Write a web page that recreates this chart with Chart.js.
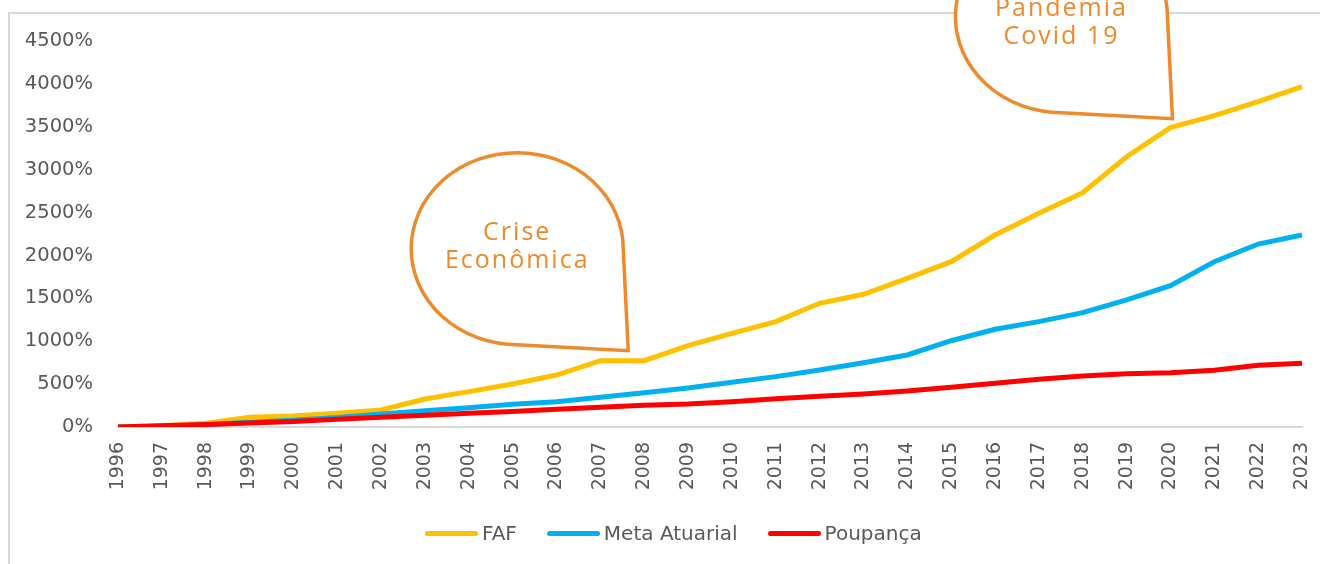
<!DOCTYPE html>
<html>
<head>
<meta charset="utf-8">
<script src="https://cdn.jsdelivr.net/npm/chart.js@4.4.0/dist/chart.umd.min.js"></script>
<style>
  html, body { margin: 0; padding: 0; background: #fff; }
  #wrap { position: relative; width: 1320px; height: 564px; overflow: hidden; }
  #frame {
    position: absolute; left: 8px; top: 12px; width: 1400px; height: 700px;
    border-left: 2px solid #d9d9d9; border-top: 2px solid #d9d9d9;
  }
  #chart_evolucao { position: absolute; left: 0; top: 0; }
  #chart_evolucao_legends {
    position: absolute; left: 425px; top: 519px; margin: 0; padding: 0;
    list-style: none; display: flex; flex-direction: row;
  }
</style>
</head>
<body>
<div id="wrap">
  <div id="frame"></div>
  <canvas id="chart_evolucao" width="1320" height="564"></canvas>
  <ul id="chart_evolucao_legends"></ul>
</div>
<script>
const anos = ["1996", "1997", "1998", "1999", "2000", "2001", "2002", "2003", "2004", "2005",
  "2006", "2007", "2008", "2009", "2010", "2011", "2012", "2013", "2014", "2015",
  "2016", "2017", "2018", "2019", "2020", "2021", "2022", "2023"];

const faf = [0, 15, 43, 113, 128, 159, 198, 326, 412, 501,
  606, 773, 773, 948, 1092, 1228, 1442, 1547, 1733, 1927,
  2238, 2491, 2732, 3151, 3490, 3629, 3792, 3967];

const metaAtuarial = [0, 10, 25, 55, 80, 110, 152, 190, 225, 264,
  295, 346, 400, 455, 521, 587, 665, 750, 840, 1006,
  1139, 1228, 1333, 1481, 1647, 1927, 2133, 2238];

const poupanca = [0, 15, 30, 47, 65, 90, 113, 136, 159, 182,
  208, 231, 253, 268, 295, 330, 358, 385, 420, 463,
  509, 556, 595, 622, 633, 661, 719, 743];

const seriesNames = ["FAF", "Meta Atuarial", "Poupança"];
const seriesColors = ["#FFC000", "#00B0F0", "#FF0000"];

// callouts anchored to a point of the FAF series
const callouts = [
  { text: ["Crise", "Econômica"], year: "2008", dx: -16, dy: -10, textDy: -2 },
  { text: ["Pandemia", "Covid 19"], year: "2020", dx: 2, dy: -9, textDy: 6 },
];

const textColor = "#595959";
const calloutColor = "#EE8A2C";

// html legend like the sheet one: a short thick line then the name
const ul = document.getElementById("chart_evolucao_legends");
seriesNames.forEach((name, i) => {
  const li = document.createElement("li");
  li.style.display = "flex";
  li.style.alignItems = "center";
  li.style.marginRight = i < seriesNames.length - 1 ? "30px" : "0";

  const box = document.createElement("span");
  box.style.display = "inline-block";
  box.style.width = "53px";
  box.style.height = "5px";
  box.style.borderRadius = "3px";
  box.style.background = seriesColors[i];
  box.style.marginRight = "4px";

  const txt = document.createElement("p");
  txt.style.margin = 0;
  txt.style.padding = 0;
  txt.style.font = "20px 'DejaVu Sans'";
  txt.style.color = textColor;
  txt.style.lineHeight = "28px";
  txt.appendChild(document.createTextNode(name));

  li.appendChild(box);
  li.appendChild(txt);
  ul.appendChild(li);
});

const calloutPlugin = {
  id: "callouts",
  afterDraw(chart) {
    const ctx = chart.ctx;
    const xs = chart.scales.x;
    const ys = chart.scales.y;
    const rx = 106, ry = 96;
    callouts.forEach((c) => {
      const idx = anos.indexOf(c.year);
      const tipX = xs.getPixelForValue(idx) + c.dx;
      const tipY = ys.getPixelForValue(faf[idx]) + c.dy;
      const right = tipX - 5;
      const bottom = tipY - 6;
      const cx = right - rx;
      const cy = bottom - ry;

      ctx.save();
      ctx.beginPath();
      ctx.moveTo(tipX, tipY);
      ctx.lineTo(right, cy);
      ctx.ellipse(cx, cy, rx, ry, 0, 0, Math.PI / 2, true);
      ctx.closePath();
      ctx.fillStyle = "#fff";
      ctx.fill();
      ctx.lineWidth = 3.5;
      ctx.lineJoin = "miter";
      ctx.strokeStyle = calloutColor;
      ctx.stroke();

      ctx.fillStyle = calloutColor;
      ctx.font = "25px 'Open Sans'";
      if ("letterSpacing" in ctx) ctx.letterSpacing = "2px";
      ctx.textAlign = "center";
      ctx.textBaseline = "middle";
      const lh = 28;
      const y0 = cy + c.textDy - ((c.text.length - 1) * lh) / 2;
      c.text.forEach((t, k) => ctx.fillText(t, cx, y0 + k * lh));
      ctx.restore();
    });
  },
};

const ctx = document.getElementById("chart_evolucao").getContext("2d");

const chartEvolucao = new Chart(ctx, {
  type: "line",
  data: {
    labels: anos,
    datasets: [
      { label: seriesNames[0], data: faf, borderColor: seriesColors[0], order: 2 },
      { label: seriesNames[1], data: metaAtuarial, borderColor: seriesColors[1], order: 1 },
      { label: seriesNames[2], data: poupanca, borderColor: seriesColors[2], order: 0 },
    ],
  },
  options: {
    responsive: false,
    animation: false,
    events: [],
    elements: {
      line: { borderWidth: 5, tension: 0, fill: false, borderCapStyle: "butt" },
      point: { radius: 0, hoverRadius: 0 },
    },
    layout: {
      padding: { left: 8, right: 18, top: 41, bottom: 0 },
    },
    plugins: {
      legend: { display: false },
      tooltip: { enabled: false },
    },
    scales: {
      x: {
        offset: false,
        grid: { display: false, drawTicks: false },
        border: { display: true, color: "#d9d9d9", width: 2 },
        ticks: {
          color: textColor,
          font: { family: "DejaVu Sans", size: 19 },
          minRotation: 90,
          maxRotation: 90,
          autoSkip: false,
          padding: 15,
        },
        afterFit: (s) => {
          s.height = 137;
          s.paddingLeft = 0;
          s.paddingRight = 0;
        },
      },
      y: {
        min: 0,
        max: 4500,
        grid: { display: false, drawTicks: false },
        border: { display: false },
        ticks: {
          stepSize: 500,
          color: textColor,
          font: { family: "DejaVu Sans", size: 19.5 },
          padding: 25,
          callback: (v) => v + "%",
        },
        afterFit: (s) => { s.width = 110; },
      },
    },
  },
  plugins: [calloutPlugin],
});
</script>
</body>
</html>
